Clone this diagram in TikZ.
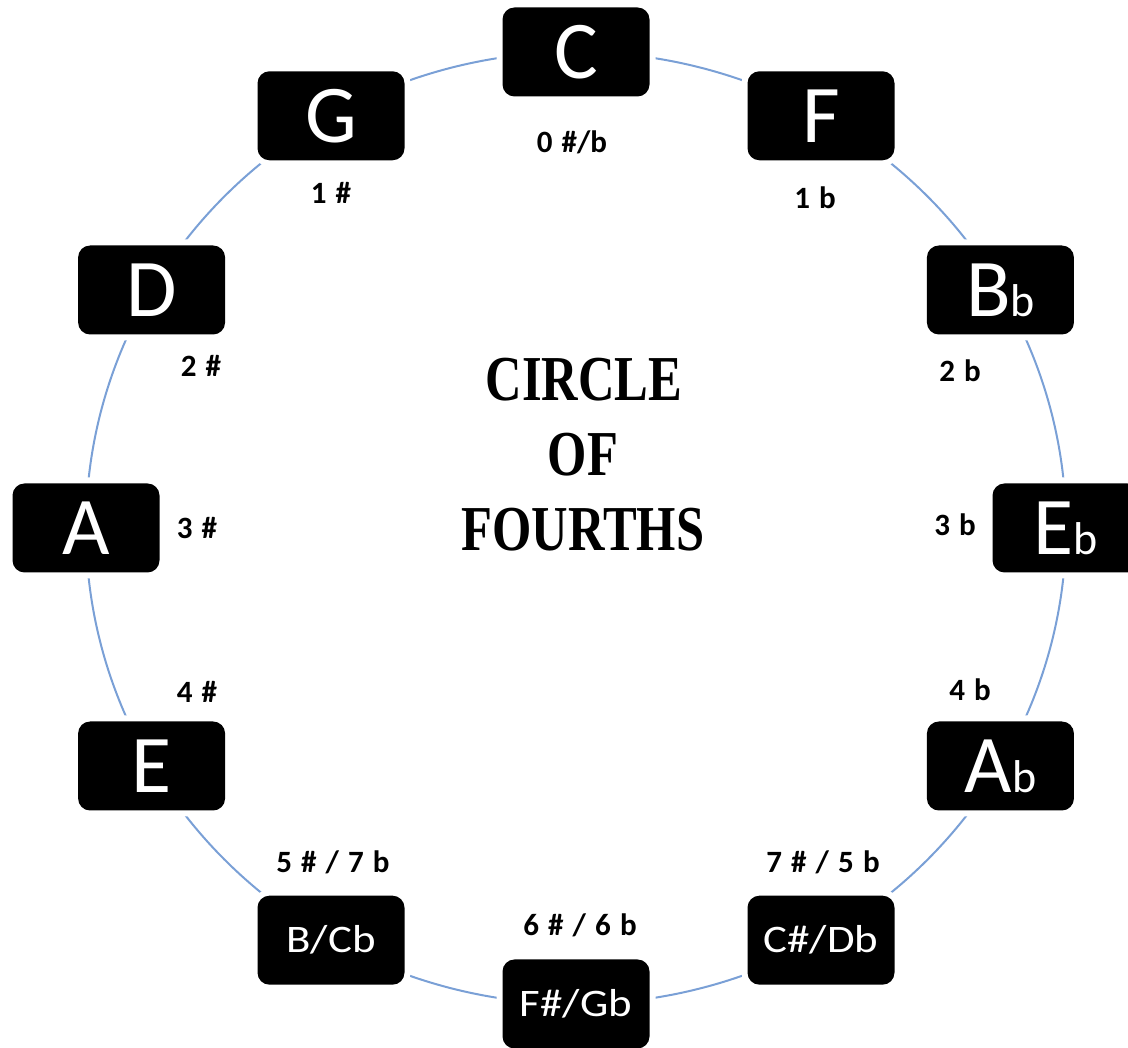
\documentclass[tikz,border=0pt]{standalone}
\usepackage{fontspec}
\setmainfont{Carlito}
\newfontfamily\keyfont{Carlito}
\newfontfamily\smallkeyfont[FakeStretch=1.15]{Carlito}
\newfontfamily\labfont[WordSpace=1.3]{Carlito}
\newfontfamily\titlefont[FakeStretch=0.79]{Liberation Serif}
\usetikzlibrary{backgrounds}
\definecolor{ringblue}{RGB}{122,160,214}
\newcommand\smallb{{\fontsize{46}{46}\selectfont b}}
\tikzset{
  keybox/.style={fill=black, rounded corners=12pt, minimum width=147pt,
    minimum height=89pt, inner sep=0pt, text=white,
    preaction={draw=white, line width=12pt}},
  bigkey/.style={keybox, font=\keyfont\fontsize{82}{82}\selectfont},
  smallkey/.style={keybox, font=\smallkeyfont\fontsize{39}{39}\selectfont},
  sig/.style={font=\labfont\bfseries\fontsize{31}{31}\selectfont, inner sep=0pt},
  ring/.style={draw=ringblue, line width=2pt},
  titletext/.style={font=\titlefont\bfseries\fontsize{64}{64}\selectfont, inner sep=0pt}
}
\begin{document}
\begin{tikzpicture}[x=1pt,y=1pt]
\useasboundingbox (0,0) rectangle (1128,1048);
% key boxes
\node[bigkey]   (C)  at (576,996)    {C};
\node[bigkey]   (F)  at (821,932.2)  {F};
\node[bigkey]   (Bb) at (1000.4,758) {B\smallb};
\node[bigkey]   (Eb) at (1066,520)   {E\smallb};
\node[bigkey]   (Ab) at (1000.4,282) {A\smallb};
\node[smallkey] (Db) at (821,107.8)  {C\#/Db};
\node[smallkey] (Gb) at (576,44)     {F\#/Gb};
\node[smallkey] (Cb) at (331,107.8)  {B/Cb};
\node[bigkey]   (E)  at (151.6,282)  {E};
\node[bigkey]   (A)  at (86,520)     {A};
\node[bigkey]   (D)  at (151.6,758)  {D};
\node[bigkey]   (G)  at (331,932.2)  {G};
% ring
\begin{pgfonlayer}{background}
\draw[ring] (C.center)  arc[start angle=90,  end angle=60,   x radius=490pt, y radius=476pt];
\draw[ring] (F.center)  arc[start angle=60,  end angle=30,   x radius=490pt, y radius=476pt];
\draw[ring] (Bb.center) arc[start angle=30,  end angle=0,    x radius=490pt, y radius=476pt];
\draw[ring] (Eb.center) arc[start angle=0,   end angle=-30,  x radius=490pt, y radius=476pt];
\draw[ring] (Ab.center) arc[start angle=-30, end angle=-60,  x radius=490pt, y radius=476pt];
\draw[ring] (Db.center) arc[start angle=-60, end angle=-90,  x radius=490pt, y radius=476pt];
\draw[ring] (Gb.center) arc[start angle=-90, end angle=-120, x radius=490pt, y radius=476pt];
\draw[ring] (Cb.center) arc[start angle=-120,end angle=-150, x radius=490pt, y radius=476pt];
\draw[ring] (E.center)  arc[start angle=-150,end angle=-180, x radius=490pt, y radius=476pt];
\draw[ring] (A.center)  arc[start angle=180, end angle=150,  x radius=490pt, y radius=476pt];
\draw[ring] (D.center)  arc[start angle=150, end angle=120,  x radius=490pt, y radius=476pt];
\draw[ring] (G.center)  arc[start angle=120, end angle=90,   x radius=490pt, y radius=476pt];
\end{pgfonlayer}
% signature labels
\node[sig] (l0)  at (572,906) {0 \#/b};
\node[sig] (l1b) at (815,850) {1 b};
\node[sig] (l2b) at (960,677) {2 b};
\node[sig] (l3b) at (955,523) {3 b};
\node[sig] (l4b) at (970,358) {4 b};
\node[sig] (l5b) at (823,186) {7 \# / 5 b};
\node[sig] (l6)  at (580,123) {6 \# / 6 b};
\node[sig] (l5s) at (333,186) {5 \# / 7 b};
\node[sig] (l4s) at (197,356) {4 \#};
\node[sig] (l3s) at (197,520) {3 \#};
\node[sig] (l2s) at (201,682) {2 \#};
\node[sig] (l1s) at (331,855) {1 \#};
% title
\node[titletext] (t1) at (584,668) {CIRCLE};
\node[titletext] (t2) at (583,593) {OF};
\node[titletext] (t3) at (583,518) {FOURTHS};
\end{tikzpicture}
\end{document}
